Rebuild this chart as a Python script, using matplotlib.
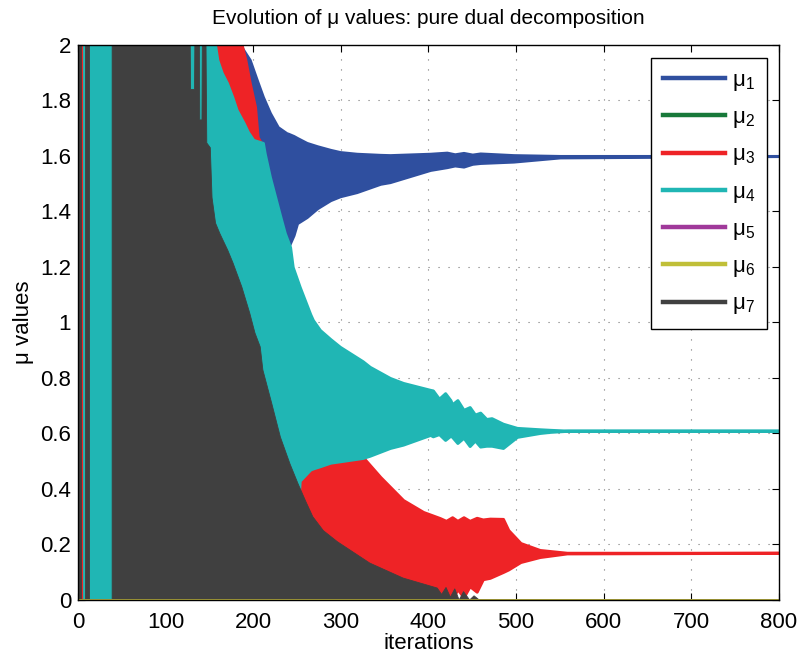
import numpy as np
import matplotlib
matplotlib.use("Agg")
import matplotlib.pyplot as plt

# Envelopes (lower / upper bound of the oscillation).
# nan breaks a band into separate pieces.
nan = np.nan

# mu_1 (blue)
mu1_it = [150, 183, 187, 196, 204, 211, 219, 228, 238, 240, 246, 250, 261, 273, 288,
          299, 318, 345, 356, 402, 421, 430, 440, 450, 459, 497, 550, 800]
mu1_hi = [2.05, 2.05, 1.99, 1.946, 1.874, 1.813, 1.755, 1.704, 1.682, 1.68, 1.672, 1.665,
          1.647, 1.635, 1.622, 1.614, 1.608, 1.604, 1.603, 1.608, 1.612, 1.606, 1.611, 1.605,
          1.609, 1.603, 1.600, 1.600]
mu1_lo = [0.0, 0.0, 0.0, 0.0, 0.0, 0.0, 0.0, 0.0, 1.06, 1.272, 1.315, 1.358,
          1.38, 1.412, 1.441, 1.455, 1.47, 1.50, 1.506, 1.55, 1.56, 1.566, 1.562, 1.572,
          1.575, 1.58, 1.595, 1.600]

# mu_3 (red)
mu3_it = [3, 183, 191, 196, 202, 205, 210, 240, 255, 262, 288, 325, 345, 371, 394, 413,
          420, 427, 433, 440, 447, 455, 462, 470, 485, 491, 505, 527, 558, 800]
mu3_hi = [2.05, 2.05, 1.946, 1.863, 1.777, 1.668, 1.64, 1.0, 0.6, 0.47, 0.50, 0.515,
          0.443, 0.36, 0.317, 0.295, 0.285, 0.298, 0.285, 0.298, 0.285, 0.296, 0.29, 0.293,
          0.292, 0.252, 0.205, 0.18, 0.17, 0.17]
mu3_lo = [0.0, 0.0, 0.0, 0.0, 0.0, 0.0, 0.0, 0.0, 0.0, 0.0, 0.0, 0.0,
          0.0, 0.0, 0.0, 0.0, 0.02, 0.0, 0.04, 0.01, 0.05, 0.03, 0.075, 0.08,
          0.101, 0.11, 0.137, 0.155, 0.168, 0.17]

# mu_4 (cyan)
mu4_it = [7, 154, 159, 164, 170, 176, 181, 189, 194, 200, 211, 213, 219, 225, 231, 236,
          242, 245, 253, 265, 268, 276, 288, 299, 325, 333, 356, 371, 402, 405, 412, 419,
          425, 427, 433, 440, 447, 453, 459, 466, 472, 485, 501, 527, 539, 560, 800]
mu4_hi = [2.05, 2.05, 1.946, 1.90, 1.863, 1.813, 1.766, 1.719, 1.686, 1.658, 1.647, 1.61,
          1.524, 1.452, 1.38, 1.322, 1.272, 1.20, 1.128, 1.03, 1.009, 0.973, 0.94, 0.912,
          0.86, 0.84, 0.80, 0.782, 0.757, 0.755, 0.725, 0.745, 0.72, 0.705, 0.72, 0.685,
          0.695, 0.668, 0.675, 0.652, 0.655, 0.635, 0.62, 0.615, 0.613, 0.61, 0.61]
mu4_lo = [0.0, 0.0, 0.0, 0.0, 0.0, 0.0, 0.0, 0.0, 0.0, 0.0, 0.0, 0.0,
          0.0, 0.0, 0.0, 0.0, 0.0, 0.0, 0.43, 0.47, 0.474, 0.482, 0.495, 0.50,
          0.512, 0.52, 0.548, 0.56, 0.595, 0.59, 0.598, 0.577, 0.592, 0.588, 0.566, 0.585,
          0.555, 0.575, 0.553, 0.556, 0.556, 0.548, 0.588, 0.602, 0.606, 0.61, 0.61]

# mu_7 (dark grey)
mu7_it = [0, 3, 5, 8, 13, 25, 39, 128, 128.5, 133, 133.5, 138.5, 139, 141.5, 142, 146,
          147, 151, 153, 157, 162, 171, 177, 187, 196, 202, 208, 211, 221, 231, 242, 251,
          260, 268, 280, 296, 333, 371, 410, 415, 420, 425, 430, 435, 440, 447, 452, 458, 800]
mu7_hi = [2.05, 2.05, nan, 2.05, 2.05, nan, 2.05, 2.05, 1.84, 1.84, 2.05, 2.05, 1.73,
          1.73, 2.05, 2.05, 1.647, 1.63, 1.45, 1.358, 1.32, 1.26, 1.214, 1.128, 1.034,
          0.962, 0.912, 0.829, 0.71, 0.587, 0.49, 0.42, 0.355, 0.30, 0.25, 0.21, 0.133,
          0.079, 0.043, 0.02, 0.045, 0.01, 0.04, 0.0, 0.03, 0.0, 0.015, 0.0, 0.0]
mu7_lo = [0.0 if not np.isnan(v) else nan for v in mu7_hi]

# mu_2, mu_5, mu_6 stay at zero
flat_it = [0, 800]
mu2_val = [0.0, 0.0]
mu5_val = [0.0, 0.0]
mu6_val = [0.0, 0.0]

colors = {
    1: "#2f4f9f", 2: "#18793a", 3: "#ee2326", 4: "#20b6b4",
    5: "#a0399a", 6: "#c0bf38", 7: "#404040",
}
labels = ["μ$_1$", "μ$_2$", "μ$_3$", "μ$_4$", "μ$_5$", "μ$_6$", "μ$_7$"]

plt.rcParams["font.family"] = ["Liberation Sans Narrow", "Liberation Sans", "DejaVu Sans"]
plt.rcParams["mathtext.default"] = "regular"

fig = plt.figure(figsize=(8.03, 6.56), dpi=100)
ax = fig.add_axes([0.0971, 0.0854, 0.8730, 0.8460])


def band(it, lo, hi, c, lw=2.2):
    ax.fill_between(it, np.array(lo, float), np.array(hi, float),
                    facecolor=c, edgecolor=c, linewidth=lw)


band(mu1_it, mu1_lo, mu1_hi, colors[1])
ax.plot(flat_it, mu2_val, color=colors[2], lw=2)
band(mu3_it, mu3_lo, mu3_hi, colors[3])
band(mu4_it, mu4_lo, mu4_hi, colors[4])
ax.plot(flat_it, mu5_val, color=colors[5], lw=2)
ax.plot(flat_it, mu6_val, color=colors[6], lw=2)
band(mu7_it, mu7_lo, mu7_hi, colors[7], lw=0.6)

# legend handles
for k, lab in zip(range(1, 8), labels):
    ax.plot([], [], color=colors[k], lw=3.2, label=lab)

ax.set_xlim(0, 800)
ax.set_ylim(0, 2)
ax.set_xticks(np.arange(0, 801, 100))
ax.set_yticks(np.round(np.arange(0, 2.01, 0.2), 1))
ax.set_yticklabels(["0", "0.2", "0.4", "0.6", "0.8", "1", "1.2", "1.4", "1.6", "1.8", "2"])
ax.tick_params(direction="in", top=True, right=True, labelsize=16, length=5)
ax.tick_params(axis="x", pad=9)
ax.tick_params(axis="y", pad=5)
ax.grid(True, color="#777777", linestyle=(0, (1, 8)), linewidth=0.8)
ax.set_axisbelow(True)
for s in ax.spines.values():
    s.set_linewidth(1.0)

ax.set_title("Evolution of μ values: pure dual decomposition", fontsize=15, pad=15)
ax.set_xlabel("iterations", fontsize=16, labelpad=0)
ax.set_ylabel("μ values", fontsize=16, labelpad=4)

leg = ax.legend(loc="upper right", bbox_to_anchor=(0.983, 0.977), borderaxespad=0,
                fontsize=16, handlelength=2.8, handletextpad=0.3, labelspacing=0.64,
                borderpad=0.55, fancybox=False, framealpha=1, edgecolor="black")
leg.get_frame().set_linewidth(1.0)

fig.savefig("out.png", dpi=100)
